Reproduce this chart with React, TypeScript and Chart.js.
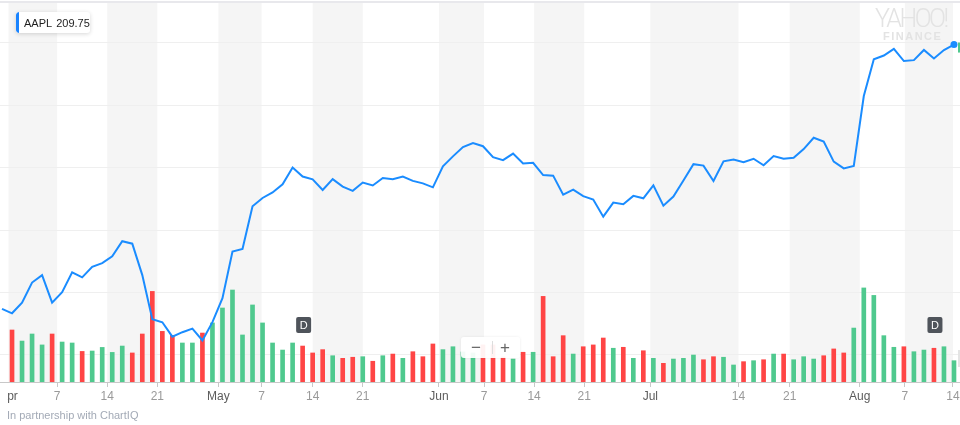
import React, { useEffect, useRef } from 'react';
import { Chart, registerables } from 'chart.js';

Chart.register(...registerables);

const SYMBOL = 'AAPL';
const LAST_PRICE = '209.75';
const CREDIT = 'In partnership with ChartIQ';

// Daily closes, Mar 29 → Aug 14 (trading days)
const CLOSES = [
  167.4,
  166.68, 168.39, 171.61, 172.8, 168.38, 170.05, 173.25, 172.44, 174.14, 174.73,
  175.82, 178.24, 177.84, 172.8, 165.72, 165.24, 162.94, 163.65, 164.22, 162.32, 165.26,
  169.1, 176.57, 177.0, 183.83, 185.16, 186.05, 187.36, 190.04, 188.59, 188.15, 186.44,
  188.18, 186.99, 186.31, 187.63, 187.16, 188.36, 188.15, 188.58, 187.9, 187.5, 186.87,
  190.24, 191.83, 193.31, 193.98, 193.46, 191.7, 191.23, 192.28, 190.7, 190.8, 188.84,
  188.74, 185.69, 186.5, 185.46, 184.92, 182.17, 184.43, 184.16, 185.5, 185.11,
  187.18, 183.92, 185.4, 187.97, 190.58, 190.35, 187.88, 191.03, 191.33, 190.91, 191.45,
  190.4, 191.88, 191.44, 191.61, 193.0, 194.82, 194.21, 190.98, 189.91, 190.29,
  201.5, 207.39, 207.99, 209.07, 207.11, 207.25, 208.88, 207.53, 208.87, 209.75,
];

// Daily volume in millions, Apr 2 → Aug 14
const VOLUMES = [
  37.6, 29.6, 34.7, 26.8, 34.7, 28.9, 28.2, 22.1, 22.4, 25.0,
  21.4, 26.0, 21.0, 34.7, 65.5, 36.6, 33.7, 28.2, 28.2, 35.4,
  42.7, 53.5, 66.5, 34.0, 55.7, 42.7, 28.2, 23.1, 28.2, 26.0,
  21.0, 23.4, 19.0, 17.1, 17.9, 18.3, 15.0, 19.0, 20.2, 17.1,
  21.9, 18.3, 27.5, 23.4, 25.5, 21.7, 21.0, 26.8, 26.8, 18.1,
  16.6, 21.5, 21.5, 61.9, 18.3, 33.5, 20.2, 25.5, 26.8, 31.8,
  24.4, 25.1, 17.1, 22.6, 17.1, 13.5, 16.6, 17.1, 19.5, 16.1,
  18.3, 17.9, 12.3, 14.7, 15.4, 16.1, 20.2, 20.2, 16.1, 18.3,
  16.6, 19.0, 23.9, 21.0, 39.0, 68.0, 62.6, 33.5, 25.1, 25.5,
  21.9, 23.1, 24.4, 25.5, 15.4,
];

// x-axis labels and their positions (trading-day index, Apr 2 = 0)
const TICK_LABELS = ['Apr', '7', '14', '21', 'May', '7', '14', '21', 'Jun', '7', '14', '21', 'Jul', '14', '21', 'Aug', '7', '14'];
const TICK_POSITIONS = [-0.35, 4.5, 9.5, 14.5, 20.6, 24.9, 30.0, 35.0, 42.6, 47.1, 52.1, 57.1, 63.7, 72.5, 77.6, 84.6, 89.1, 93.9];
const MONTH_LABELS = ['Apr', 'May', 'Jun', 'Jul', 'Aug'];
const PRICE_GRID = [160, 170, 180, 190, 200, 210];
const DIVIDEND_DAYS = [29, 92];

const X_MIN = -1.2;
const X_MAX = 94.6;
const PRICE_MIN = 155.67;
const PRICE_MAX = 216.41;
const VOL_MAX = 274;

const FONT = '"Helvetica Neue", Helvetica, "Liberation Sans", Arial, sans-serif';
const LINE_BLUE = '#1a8cff';
const UP_GREEN = '#4fc98e';
const DOWN_RED = '#ff4545';

const decorPlugin = {
  id: 'decor',
  beforeDraw(chart: any) {
    const { ctx, chartArea: a, scales } = chart;
    const xs = scales.x;
    ctx.save();
    ctx.fillStyle = '#f5f5f5';
    for (let i = 0; i < TICK_POSITIONS.length; i += 2) {
      const x0 = xs.getPixelForValue(TICK_POSITIONS[i]);
      const x1 = i + 1 < TICK_POSITIONS.length ? xs.getPixelForValue(TICK_POSITIONS[i + 1]) : a.right;
      ctx.fillRect(x0, a.top, x1 - x0, a.bottom - a.top);
    }
    ctx.fillStyle = '#e8e8ec';
    ctx.fillRect(a.left, a.top - 2, a.right - a.left, 2);
    ctx.restore();
  },
  afterDatasetsDraw(chart: any) {
    const { ctx, chartArea: a, scales } = chart;
    const xs = scales.x;
    const ys = scales.y;
    ctx.save();
    DIVIDEND_DAYS.forEach((d) => {
      const cx = xs.getPixelForValue(d) + 1;
      const w = 15;
      const h = 16;
      const top = a.bottom - 65;
      ctx.fillStyle = '#4f545b';
      ctx.beginPath();
      ctx.roundRect(cx - w / 2, top, w, h, 2);
      ctx.fill();
      ctx.fillStyle = '#ffffff';
      ctx.font = '11px ' + FONT;
      ctx.textAlign = 'center';
      ctx.textBaseline = 'middle';
      ctx.fillText('D', cx, top + h / 2 + 0.5);
    });
    const lastY = ys.getPixelForValue(CLOSES[CLOSES.length - 1]);
    ctx.fillStyle = UP_GREEN;
    ctx.fillRect(a.right - 2, lastY - 2, 2, 10);
    ctx.fillStyle = '#e4e4e4';
    ctx.fillRect(a.right - 2, a.bottom - 32, 2, 17);
    ctx.restore();
  },
  afterDraw(chart: any) {
    // the axis strip is clipped a few pixels in from the left edge
    const { ctx, chartArea: a } = chart;
    ctx.save();
    ctx.fillStyle = '#ffffff';
    ctx.fillRect(0, a.bottom + 6, 7, 20);
    ctx.restore();
  },
};

export default function App() {
  const canvasRef = useRef<HTMLCanvasElement | null>(null);

  useEffect(() => {
    if (!canvasRef.current) return;
    const linePoints = CLOSES.map((c, i) => ({ x: i - 1, y: c }));
    const volPoints = VOLUMES.map((v, i) => ({ x: i, y: v }));
    const volColors = VOLUMES.map((_, i) => (CLOSES[i + 1] >= CLOSES[i] ? UP_GREEN : DOWN_RED));
    const lastIdx = linePoints.length - 1;

    const chart = new Chart(canvasRef.current, {
      type: 'line',
      data: {
        datasets: [
          {
            type: 'line',
            label: SYMBOL,
            data: linePoints,
            yAxisID: 'y',
            borderColor: LINE_BLUE,
            backgroundColor: LINE_BLUE,
            borderWidth: 2,
            tension: 0,
            pointRadius: (c: any) => (c.dataIndex === lastIdx ? 3.5 : 0),
            pointBorderWidth: 0,
            pointBackgroundColor: LINE_BLUE,
            order: 0,
          } as any,
          {
            type: 'bar',
            label: 'Volume',
            data: volPoints,
            yAxisID: 'yv',
            backgroundColor: volColors,
            borderWidth: 0,
            barThickness: 4,
            order: 1,
          } as any,
        ],
      },
      options: {
        animation: false,
        responsive: false,
        events: [],
        layout: { autoPadding: false, padding: { top: 3, left: 0, right: 0, bottom: 0 } },
        plugins: {
          legend: { display: false },
          tooltip: { enabled: false },
          title: { display: false },
        },
        scales: {
          x: {
            type: 'linear',
            min: X_MIN,
            max: X_MAX,
            offset: false,
            bounds: 'data',
            afterBuildTicks: (s: any) => {
              s.ticks = TICK_POSITIONS.map((v) => ({ value: v }));
            },
            afterFit: (s: any) => {
              s.height = 43;
              s.paddingLeft = 0;
              s.paddingRight = 0;
            },
            ticks: {
              autoSkip: false,
              maxRotation: 0,
              minRotation: 0,
              padding: 2,
              font: { size: 12, family: FONT },
              color: (c: any) => (MONTH_LABELS.includes(TICK_LABELS[c.index]) ? '#5c5c5c' : '#9a9a9a'),
              callback: (_v: any, i: number) => TICK_LABELS[i],
            },
            grid: {
              offset: false,
              drawOnChartArea: false,
              drawTicks: true,
              tickLength: 5,
              color: '#c8c8c8',
              tickColor: (c: any) => (c.index === 0 ? 'rgba(0,0,0,0)' : '#c8c8c8'),
            },
            border: { display: true, color: '#c8c8c8' },
          },
          y: {
            type: 'linear',
            position: 'right',
            min: PRICE_MIN,
            max: PRICE_MAX,
            bounds: 'data',
            afterBuildTicks: (s: any) => {
              s.ticks = PRICE_GRID.map((v) => ({ value: v }));
            },
            afterFit: (s: any) => {
              s.width = 0;
            },
            ticks: { display: false },
            grid: { color: '#efefef', drawTicks: false },
            border: { display: false },
          },
          yv: {
            type: 'linear',
            position: 'right',
            min: 0,
            max: VOL_MAX,
            display: false,
          },
        },
      } as any,
      plugins: [decorPlugin],
    });
    return () => chart.destroy();
  }, []);

  return (
    <div style={{ position: 'fixed', left: 0, top: 0, width: 960, height: 425, background: '#fff', overflow: 'hidden', fontFamily: FONT }}>
      <canvas ref={canvasRef} width={960} height={425} style={{ display: 'block', width: 960, height: 425 }} />
      <div
        style={{
          position: 'absolute', left: 16, top: 12, width: 74, height: 21, background: '#fff',
          borderRadius: 3, boxShadow: '0 1px 4px rgba(0,0,0,0.16)', display: 'flex', alignItems: 'center',
          fontSize: 11, color: '#1e1e1e', whiteSpace: 'nowrap', overflow: 'hidden',
        }}
      >
        <div style={{ width: 3, height: 21, background: '#1a84ff', borderRadius: '3px 0 0 3px', flex: 'none' }} />
        <span style={{ marginLeft: 5, fontWeight: 500 }}>{SYMBOL}</span>
        <span style={{ marginLeft: 4 }}>{LAST_PRICE}</span>
      </div>
      <div
        style={{
          position: 'absolute', left: 875, top: 6, fontFamily: 'Roboto, ' + FONT, fontWeight: 300,
          fontSize: 25, lineHeight: '25px', letterSpacing: -2.5, color: '#e3e3e3', whiteSpace: 'nowrap',
        }}
      >
        YAHOO!
      </div>
      <div
        style={{
          position: 'absolute', left: 883, top: 30, fontWeight: 700, fontSize: 11, lineHeight: '12px',
          letterSpacing: 1.5, color: '#e3e3e3', whiteSpace: 'nowrap',
        }}
      >
        FINANCE
      </div>
      <div
        style={{
          position: 'absolute', left: 461, top: 337, width: 59, height: 21, background: 'rgba(255,255,255,0.93)',
          borderRadius: 3, boxShadow: '0 0 3px rgba(0,0,0,0.08)', color: '#666', fontSize: 17, lineHeight: '21px',
        }}
      >
        <span style={{ position: 'absolute', left: 5, width: 20, textAlign: 'center', top: 0 }}>−</span>
        <span style={{ position: 'absolute', left: 31, top: 4, width: 1, height: 13, background: '#ddd' }} />
        <span style={{ position: 'absolute', left: 34, width: 20, textAlign: 'center', top: 0 }}>+</span>
      </div>
      <div
        style={{
          position: 'absolute', left: 7, top: 409, fontSize: 11, lineHeight: '13px', color: '#a3aab6', whiteSpace: 'nowrap',
        }}
      >
        {CREDIT}
      </div>
    </div>
  );
}
